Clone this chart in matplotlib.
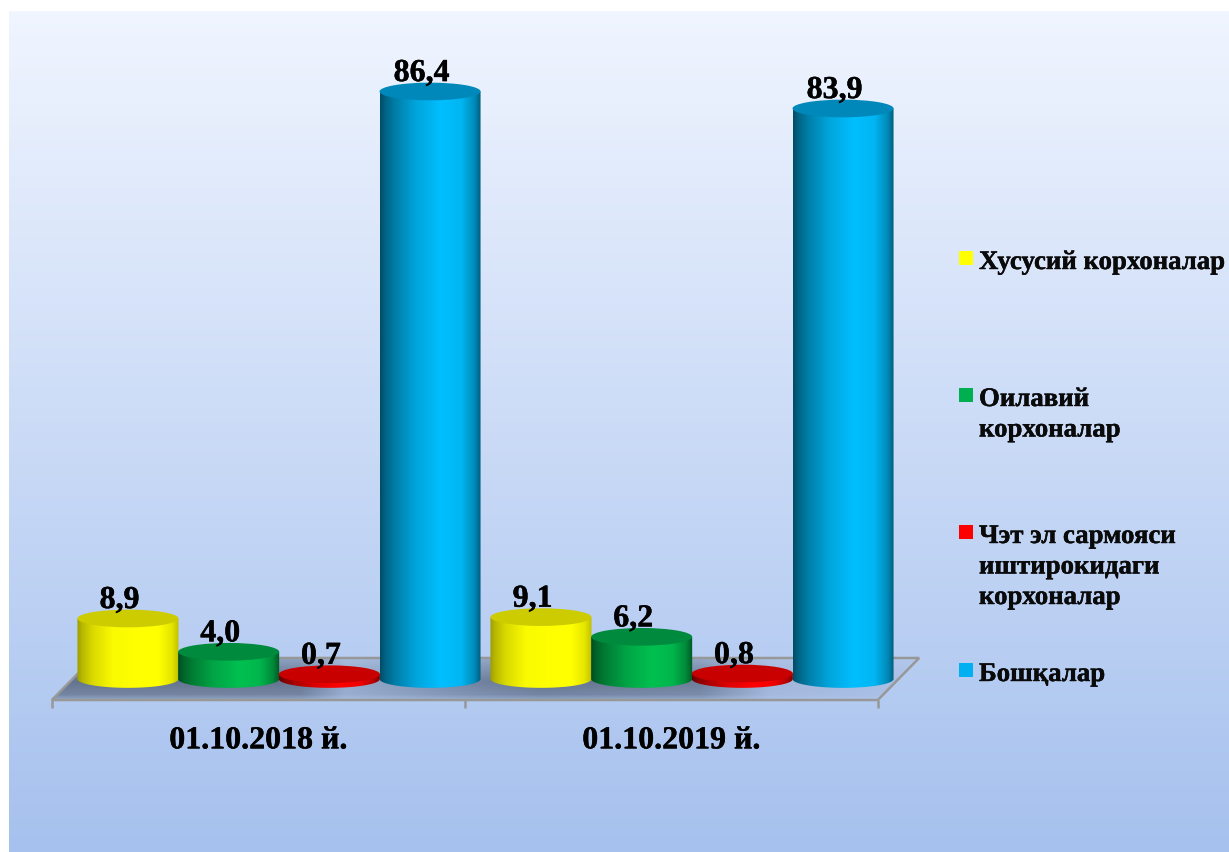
import matplotlib
matplotlib.use("Agg")
import matplotlib.pyplot as plt
import matplotlib.patheffects as pe
import numpy as np
from matplotlib.colors import to_rgb
from matplotlib.patches import Ellipse, Polygon, Rectangle
from matplotlib.transforms import Affine2D

plt.rcParams['font.family'] = ['Liberation Serif', 'DejaVu Serif']
plt.rcParams['font.weight'] = 'bold'

fechas = ["01.10.2018 й.", "01.10.2019 й."]
series = ["Хусусий корхоналар", "Оилавий\nкорхоналар",
          "Чэт эл сармояси\nиштирокидаги\nкорхоналар", "Бошқалар"]
xususiy = [8.9, 9.1]
oilaviy = [4.0, 6.2]
chet_el = [0.7, 0.8]
boshqa = [86.4, 83.9]
valores = [xususiy, oilaviy, chet_el, boshqa]
colores = ["#FFFF00", "#00C050", "#FF0000", "#00BFFF"]
colores_tapa = ["#CCCC00", "#008A3E", "#C80000", "#0088BB"]
colores_leyenda = ["#FFFF00", "#00B050", "#FF0000", "#00B0F0"]

W, H = 1229, 852
PX_X = 413.0      # pixels per category
PX_Y = 6.8        # pixels per unit of value
X0, Y0 = 279, 679  # pixel of category 0, value 0

fig = plt.figure(figsize=(W / 100, H / 100), dpi=100, facecolor="white")
ax = fig.add_axes([0, 0, 1, 1])
ax.axis("off")

def fijar_limites():
    ax.set_xlim(-X0 / PX_X, (W - X0) / PX_X)
    ax.set_ylim(-(H - Y0) / PX_Y, Y0 / PX_Y)

fijar_limites()

# pixel coordinates, origin top left, for the background and legend
pix = Affine2D().scale(1, -1).translate(0, H)
grueso = [pe.withStroke(linewidth=0.3, foreground="black")]

# background gradient
t = np.linspace(0, 1, 256)[:, None]
arriba, abajo = np.array(to_rgb("#F0F5FF")), np.array(to_rgb("#A6C1EE"))
fondo = (arriba + (abajo - arriba) * t).reshape(256, 1, 3)
ax.imshow(fondo, extent=(9, W, H, 11), transform=pix, aspect="auto", zorder=0)
fijar_limites()

# floor
sesgo = 0.05
piso_y = 3.09
esquinas = [(-0.5 - sesgo, -piso_y), (1.5 - sesgo, -piso_y),
            (1.5 + sesgo, piso_y), (-0.5 + sesgo, piso_y)]
ax.add_patch(Polygon(esquinas, closed=True, fill=False, ec="#989898", lw=1.8, zorder=3))

xs = (np.linspace(0, W, 600) - X0) / PX_X
ys = np.linspace(piso_y, -piso_y, 60)
fx = np.interp(xs * PX_X + X0, [52, 300, 345, 380, 481, 541, 700, 770, 918],
               [1, 1, 0.4, 0.5, 0.85, 1, 0.9, 0.25, 0.12])
fy = np.interp(-ys * PX_Y + Y0, [658, 668, 682, 695, 700], [0.45, 0.7, 1.0, 0.8, 0.4])
sombra = np.zeros((60, 600, 4))
sombra[..., :3] = to_rgb("#64748F")
sombra[..., 3] = np.outer(fy, fx)
im = ax.imshow(sombra, extent=(xs[0], xs[-1], -piso_y, piso_y), aspect="auto", zorder=1)
im.set_clip_path(Polygon(esquinas, closed=True, transform=ax.transData))
fijar_limites()

# tick marks under the front edge
for b in [-0.5, 0.5, 1.5]:
    ax.plot([b - sesgo, b - sesgo], [-piso_y, -4.26], color="#989898", lw=1.8, zorder=3,
            solid_capstyle="butt")

# cylinders
ancho = 0.2446
paso = 0.2438
semi = 1.3
tonos_x = [0, 0.05, 0.15, 0.35, 0.6, 0.8, 0.93, 1]
tonos = [0.4, 0.52, 0.66, 0.86, 1, 0.95, 0.72, 0.45]
tonos_amarillo = [0.62, 0.72, 0.85, 0.98, 1, 1, 0.9, 0.75]
orden = 10
for c in range(len(fechas)):
    for s in range(len(series)):
        v = valores[s][c]
        cx = c + (s - 1.5) * paso
        izq, der = cx - ancho / 2, cx + ancho / 2
        ang = np.linspace(np.pi, 2 * np.pi, 60)
        arco = np.c_[cx + ancho / 2 * np.cos(ang), semi * np.sin(ang)]
        cuerpo = np.vstack([[izq, v], arco, [der, v]])
        u = np.linspace(0, 1, 256)
        escala = np.interp(u, tonos_x, tonos_amarillo if s == 0 else tonos)[:, None]
        grad = (np.array(to_rgb(colores[s])) * escala)[None, :, :]
        imc = ax.imshow(grad, extent=(izq, der, -semi, v), aspect="auto", zorder=orden)
        imc.set_clip_path(Polygon(cuerpo, closed=True, transform=ax.transData))
        ax.add_patch(Ellipse((cx, v), ancho, 2 * semi, fc=colores_tapa[s], ec="none",
                             zorder=orden + 0.5))
        ax.annotate(f"{v:.1f}".replace(".", ","), xy=(cx, v), xytext=(-6, 7.5),
                    textcoords="offset points", ha="center", va="baseline",
                    fontsize=23, color="black", zorder=50, path_effects=grueso)
        orden += 1

fijar_limites()

# category labels
for c, fecha in enumerate(fechas):
    ax.text(c - sesgo, -10.2, fecha, ha="center", va="baseline", fontsize=23, color="black",
            path_effects=grueso)

# legend
cuadros_y = [258, 395, 532, 670]
textos_y = [269, 406, 543, 681]
for nombre, col, yc, yt in zip(series, colores_leyenda, cuadros_y, textos_y):
    ax.add_patch(Rectangle((958.5, yc - 7), 14, 14, fc=col, ec="none", transform=pix, zorder=20))
    for i, linea in enumerate(nombre.split("\n")):
        ax.text(979, yt + i * 30.5, linea, transform=pix, ha="left", va="baseline",
                fontsize=19.3, color="#0A0A0A", path_effects=grueso)

fig.savefig("out.png", dpi=100, facecolor="white")
